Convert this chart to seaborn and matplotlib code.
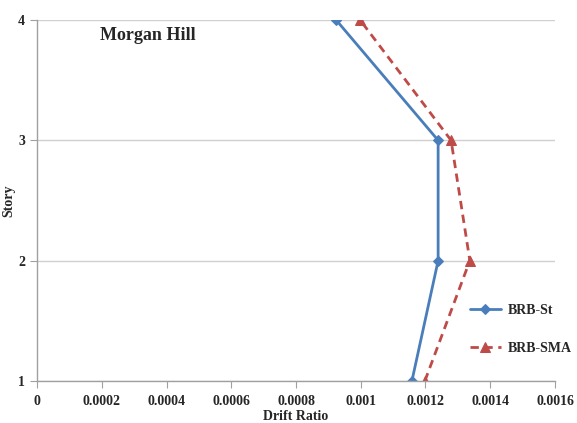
import matplotlib
matplotlib.use("Agg")
import matplotlib.pyplot as plt
import seaborn as sns
import pandas as pd
from matplotlib.ticker import FuncFormatter, MultipleLocator

# Drift ratio per story
stories = [1, 2, 3, 4]
brb_st = [0.001158, 0.001239, 0.001239, 0.000924]
brb_sma = [0.001198, 0.001337, 0.001279, 0.000998]

sns.set_style("white")
plt.rcParams['font.family'] = ['Liberation Serif', 'DejaVu Serif']
plt.rcParams['font.weight'] = 'bold'

blue = '#4a7ebb'
red = '#be4b48'

df = pd.DataFrame({'Story': stories * 2,
                   'Drift': brb_st + brb_sma,
                   'Series': ['BRB-St'] * 4 + ['BRB-SMA'] * 4})

fig = plt.figure(figsize=(5.77, 4.23), dpi=100)
ax = fig.add_axes([37 / 577, 1 - 381 / 423, (555 - 37) / 577, (381 - 20) / 423])

sns.lineplot(data=df[df.Series == 'BRB-St'], x='Drift', y='Story', sort=False,
             orient='y', color=blue, lw=2, marker='D', markersize=5,
             markeredgecolor=blue, label='BRB-St', ax=ax)
sns.lineplot(data=df[df.Series == 'BRB-SMA'], x='Drift', y='Story', sort=False,
             orient='y', color=red, lw=2, linestyle=(0, (3, 2)), marker='^',
             markersize=7, markeredgecolor=red, label='BRB-SMA', ax=ax)

ax.set_xlim(0, 0.0016)
ax.set_ylim(1, 4)
ax.xaxis.set_major_locator(MultipleLocator(0.0002))
ax.xaxis.set_major_formatter(FuncFormatter(lambda v, p: f"{v:g}"))
ax.set_yticks(stories)

ax.yaxis.grid(True, color='#d0d0d0', lw=1)
ax.xaxis.grid(False)
for s in ['top', 'right']:
    ax.spines[s].set_visible(False)
for s in ['left', 'bottom']:
    ax.spines[s].set_color('#a0a0a0')
    ax.spines[s].set_linewidth(1)

ax.tick_params(axis='both', which='major', direction='out', length=5,
               color='#a0a0a0', labelsize=10, bottom=True, left=True)
ax.tick_params(axis='x', pad=5)
for lab in ax.get_xticklabels() + ax.get_yticklabels():
    lab.set_fontweight('bold')

ax.set_xlabel('Drift Ratio', fontsize=10, fontweight='bold')
ax.xaxis.set_label_coords(0.5, -0.08)
ax.set_ylabel('Story', fontsize=10, fontweight='bold')
ax.yaxis.set_label_coords(-0.041, 0.5)

ax.text(0.000195, 3.875, 'Morgan Hill', fontsize=13, fontweight='bold',
        va='center')

leg = ax.legend(loc='center left', bbox_to_anchor=(0.836, 0.143), frameon=False,
                fontsize=10, handlelength=2.2, labelspacing=1.75,
                borderpad=0, borderaxespad=0, handletextpad=0.5)
for t in leg.get_texts():
    t.set_fontweight('bold')

fig.savefig('out.png', dpi=100)
